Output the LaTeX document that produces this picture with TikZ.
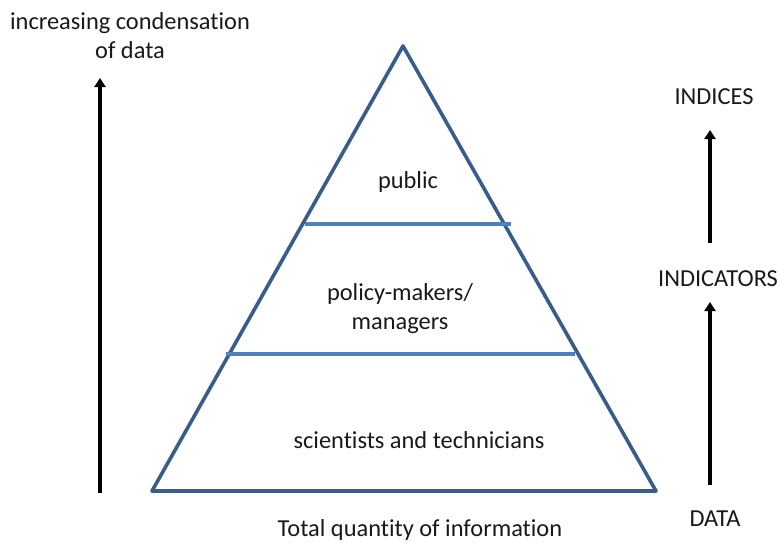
\documentclass[tikz,border=0pt]{standalone}
\usepackage{fontspec}
\setmainfont[Ligatures=NoCommon]{Carlito}
\usetikzlibrary{arrows.meta}
\begin{document}
\begin{tikzpicture}[x=1pt,y=-1pt,
  lbl/.style={inner sep=0pt,font=\fontsize{24.4}{29}\selectfont,text=black!90},
  layer/.style={draw=bandc, line width=3.6pt},
  uparrow/.style={draw=black,line width=3.4pt,-{Triangle[width=11pt,length=9pt]}}]
\definecolor{tric}{HTML}{385D8A}
\definecolor{bandc}{HTML}{4F81BD}
\useasboundingbox (0,0) rectangle (779,543);
\coordinate (apex) at (403,46);
\coordinate (bl) at (152,491);
\coordinate (br) at (656,491);
\draw[draw=tric,line width=3.6pt,line join=round] (apex) -- (br) -- (bl) -- cycle;
\coordinate (l1a) at (305,224); \coordinate (l1b) at (511,224);
\coordinate (l2a) at (226,354); \coordinate (l2b) at (575,354);
\draw[layer] (l1a) -- (l1b);
\draw[layer] (l2a) -- (l2b);
\node[lbl] (pub) at (408,182) {public};
\node[lbl,align=center] (pol) at (400,309) {policy-makers/\\managers};
\node[lbl] (sci) at (419,440) {scientists and technicians};
\node[lbl] (tot) at (420,530) {Total quantity of information};
\node[lbl,align=center] (inc) at (130,36) {increasing condensation\\of data};
\node[lbl] (ind) at (714,97) {INDICES};
\node[lbl] (indic) at (718,279) {INDICATORS};
\node[lbl] (dat) at (715,519) {DATA};
\coordinate (a1s) at (100,493); \coordinate (a1e) at (100,78);
\coordinate (a2s) at (710,485); \coordinate (a2e) at (710,302);
\coordinate (a3s) at (710,243); \coordinate (a3e) at (710,130);
\draw[uparrow] (a1s) -- (a1e);
\draw[uparrow] (a2s) -- (a2e);
\draw[uparrow] (a3s) -- (a3e);
\end{tikzpicture}
\end{document}
